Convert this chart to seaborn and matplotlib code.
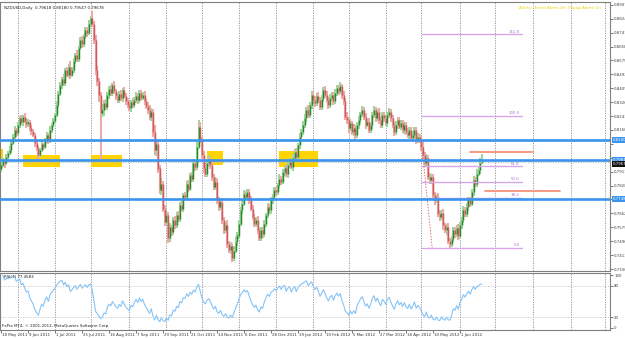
import numpy as np
import pandas as pd
import matplotlib
matplotlib.use("Agg")
import matplotlib.pyplot as plt
import matplotlib.transforms as mtrans
from matplotlib.patches import Rectangle
import seaborn as sns

sns.set_theme(style="white")
plt.rcParams["font.family"] = ["DejaVu Sans"]

# ---------------- data ----------------
start_date = "2011-05-18"
first_open = 0.7930
closes = [
    0.7951, 0.7975, 0.7960, 0.7998, 0.8022, 0.8040, 0.8085, 0.8120, 0.8160, 0.8142,
    0.8188, 0.8231, 0.8205, 0.8240, 0.8215, 0.8196, 0.8208, 0.8170, 0.8152, 0.8130,
    0.8085, 0.8050, 0.8011, 0.8042, 0.8075, 0.8060, 0.8100, 0.8128, 0.8098, 0.8160,
    0.8190, 0.8215, 0.8249, 0.8310, 0.8372, 0.8428, 0.8465, 0.8440, 0.8518, 0.8490,
    0.8535, 0.8488, 0.8520, 0.8570, 0.8608, 0.8585, 0.8650, 0.8697, 0.8672, 0.8720,
    0.8757, 0.8740, 0.8795, 0.8828, 0.8790, 0.8697, 0.8518, 0.8450, 0.8369, 0.8260,
    0.8279, 0.8320, 0.8298, 0.8369, 0.8405, 0.8380, 0.8428, 0.8395, 0.8360, 0.8339,
    0.8372, 0.8350, 0.8399, 0.8365, 0.8330, 0.8309, 0.8290, 0.8325, 0.8310, 0.8339,
    0.8365, 0.8340, 0.8378, 0.8352, 0.8369, 0.8330, 0.8305, 0.8279, 0.8240, 0.8265,
    0.8150, 0.8040, 0.8075, 0.7930, 0.7800, 0.7840, 0.7690, 0.7610, 0.7650, 0.7515,
    0.7580, 0.7550, 0.7620, 0.7590, 0.7652, 0.7630, 0.7712, 0.7690, 0.7770, 0.7760,
    0.7840, 0.7810, 0.7891, 0.7870, 0.7960, 0.7940, 0.8060, 0.8180, 0.8100, 0.8010,
    0.7935, 0.7900, 0.7960, 0.7985, 0.7950, 0.7880, 0.7820, 0.7850, 0.7742, 0.7700,
    0.7730, 0.7620, 0.7563, 0.7590, 0.7480, 0.7443, 0.7470, 0.7396, 0.7440, 0.7490,
    0.7530, 0.7600, 0.7680, 0.7720, 0.7780, 0.7760, 0.7790, 0.7740, 0.7690, 0.7640,
    0.7600, 0.7620, 0.7560, 0.7515, 0.7560, 0.7540, 0.7600, 0.7650, 0.7700, 0.7680,
    0.7742, 0.7760, 0.7800, 0.7790, 0.7831, 0.7870, 0.7850, 0.7909, 0.7930, 0.7895,
    0.7951, 0.7970, 0.7940, 0.7993, 0.8030, 0.8000, 0.8070, 0.8120, 0.8150, 0.8190,
    0.8230, 0.8279, 0.8250, 0.8310, 0.8369, 0.8340, 0.8320, 0.8365, 0.8339, 0.8300,
    0.8345, 0.8399, 0.8370, 0.8339, 0.8310, 0.8350, 0.8369, 0.8330, 0.8380, 0.8411,
    0.8390, 0.8420, 0.8369, 0.8330, 0.8240, 0.8220, 0.8172, 0.8200, 0.8150, 0.8172,
    0.8130, 0.8190, 0.8220, 0.8255, 0.8279, 0.8240, 0.8190, 0.8210, 0.8160, 0.8190,
    0.8249, 0.8279, 0.8230, 0.8265, 0.8220, 0.8190, 0.8249, 0.8230, 0.8200, 0.8249,
    0.8270, 0.8230, 0.8190, 0.8150, 0.8190, 0.8220, 0.8180, 0.8200, 0.8160, 0.8190,
    0.8150, 0.8130, 0.8160, 0.8110, 0.8130, 0.8160, 0.8100, 0.8120, 0.8100, 0.8060,
    0.8010, 0.7960, 0.7990, 0.7880, 0.7861, 0.7880, 0.7772, 0.7740, 0.7760, 0.7660,
    0.7640, 0.7665, 0.7590, 0.7560, 0.7580, 0.7500, 0.7480, 0.7510, 0.7560, 0.7540,
    0.7575, 0.7530, 0.7590, 0.7620, 0.7680, 0.7660, 0.7700, 0.7742, 0.7720, 0.7790,
    0.7861, 0.7840, 0.7900, 0.7921, 0.7962, 0.7968,
]
# wick lengths in pips
up_wick = [
    15, 20, 12, 18, 10, 22, 14, 16, 25, 12,
    20, 15, 18, 12, 22, 14, 16, 10, 18, 12,
    14, 20, 16, 12, 18, 10, 15, 20, 14, 22,
    12, 16, 10, 25, 18, 20, 14, 30, 12, 18,
    20, 35, 16, 22, 12, 28, 14, 18, 25, 10,
    20, 15, 22, 14, 40, 18, 30, 25, 20, 15,
    35, 20, 25, 15, 18, 22, 14, 26, 12, 20,
    18, 25, 14, 20, 16, 22, 18, 12, 24, 15,
    20, 14, 18, 22, 16, 25, 12, 20, 30, 25,
    20, 40, 30, 25, 20, 35, 18, 22, 30, 20,
    25, 15, 20, 28, 16, 22, 18, 25, 14, 20,
    18, 22, 15, 20, 25, 18, 30, 40, 25, 20,
    22, 30, 18, 25, 14, 20, 16, 28, 22, 18,
    20, 25, 18, 22, 30, 15, 20, 18, 25, 30,
    20, 25, 18, 30, 22, 16, 20, 15, 28, 22,
    18, 20, 25, 15, 22, 18, 20, 14, 25, 18,
    20, 15, 22, 18, 14, 25, 16, 20, 18, 22,
    15, 20, 18, 22, 16, 25, 14, 20, 18, 22,
    25, 20, 30, 18, 22, 26, 20, 16, 24, 18,
    22, 16, 25, 20, 18, 22, 15, 20, 24, 18,
    20, 25, 15, 22, 18, 30, 20, 25, 16, 22,
    20, 18, 25, 15, 22, 18, 20, 14, 24, 18,
    16, 22, 18, 20, 25, 15, 20, 18, 22, 16,
    20, 18, 22, 16, 25, 20, 15, 22, 18, 20,
    18, 22, 15, 20, 25, 18, 16, 20, 15, 25,
    30, 20, 25, 18, 22, 16, 20, 18, 15, 22,
    20, 18, 22, 16, 20, 25, 18, 15, 22, 20,
    16, 22, 20, 18, 25, 20, 22, 15, 20, 18,
    22, 18, 25, 20, 30, 50,
]
dn_wick = [
    20, 15, 25, 12, 18, 14, 20, 12, 16, 22,
    15, 18, 12, 20, 14, 22, 16, 18, 20, 12,
    25, 18, 30, 14, 16, 20, 12, 18, 22, 14,
    16, 12, 20, 14, 18, 12, 22, 16, 20, 14,
    18, 22, 14, 20, 16, 18, 22, 14, 20, 16,
    18, 22, 15, 20, 18, 25, 30, 28, 40, 290,
    25, 35, 20, 18, 22, 16, 20, 18, 22, 16,
    20, 18, 22, 15, 20, 16, 18, 22, 16, 20,
    18, 22, 16, 20, 15, 22, 18, 25, 20, 25,
    30, 30, 35, 28, 25, 30, 20, 25, 18, 30,
    25, 20, 18, 22, 16, 20, 18, 15, 20, 14,
    18, 22, 16, 20, 18, 22, 16, 15, 20, 25,
    30, 22, 18, 20, 25, 22, 20, 18, 22, 25,
    20, 22, 25, 20, 22, 18, 25, 24, 18, 15,
    20, 18, 15, 22, 16, 20, 18, 22, 15, 20,
    20, 18, 22, 16, 20, 25, 18, 22, 15, 18,
    20, 22, 18, 25, 16, 20, 18, 15, 22, 18,
    20, 18, 15, 22, 16, 20, 18, 25, 16, 20,
    18, 22, 16, 20, 25, 18, 22, 16, 20, 18,
    20, 18, 22, 16, 25, 20, 18, 22, 16, 20,
    22, 18, 25, 20, 18, 22, 30, 20, 18, 25,
    30, 18, 22, 16, 20, 18, 22, 15, 20, 18,
    22, 16, 20, 18, 25, 20, 18, 22, 16, 20,
    18, 22, 20, 25, 18, 22, 16, 20, 18, 22,
    20, 18, 22, 16, 20, 18, 22, 16, 20, 25,
    25, 22, 20, 18, 25, 22, 20, 25, 18, 20,
    22, 20, 25, 18, 28, 20, 25, 20, 18, 22,
    20, 25, 18, 22, 16, 20, 18, 22, 20, 16,
    22, 18, 20, 16, 22, 7,
]
date_labels = ["18 May 2011", "9 Jun 2011", "1 Jul 2011", "25 Jul 2011", "16 Aug 2011",
               "7 Sep 2011", "29 Sep 2011", "21 Oct 2011", "14 Nov 2011", "6 Dec 2011",
               "28 Dec 2011", "19 Jan 2012", "10 Feb 2012", "5 Mar 2012", "27 Mar 2012",
               "18 Apr 2012", "10 May 2012", "1 Jun 2012"]
price_ticks = [0.7330 + 0.0083 * k for k in range(20)]
rsi_ticks = [100, 80, 20, 0]
rsi_levels = [80, 20]
support_levels = [0.8100, 0.7981, 0.7748]
bid_price = 0.79678
zone_x0 = [-0.7, 13.0, 53.3, 122.0, 164.7]
zone_x1 = [1.1, 35.0, 71.6, 131.5, 187.8]
zone_lo = [0.7933, 0.7939, 0.7939, 0.7951, 0.7939]
zone_hi = [0.8046, 0.8011, 0.8011, 0.8034, 0.8034]
fib_low, fib_high = 0.7455, 0.8243
fib_levels = [0.0, 38.2, 50.0, 61.8, 100.0, 161.8]
fib_x = [249.5, 308.8]
fib_trend_x = [249.0, 255.5]
fib_trend_y = [0.8100, 0.7455]
orange_x0 = [278.0, 286.8]
orange_x1 = [315.3, 331.3]
orange_y = [0.8028, 0.7796]
title_text = "NZDUSD,Daily  0.79618 0.80180 0.79547 0.79678"
alert_text = "Alerts:  Email Alerts On  Popup Alerts On"
rsi_text = "RSI(7) 77.4583"
copyright_text = "FxPro MT4, \u00a9 2001-2012, MetaQuotes Software Corp."

# ---------------- derived ----------------
n = len(closes)
idx = np.arange(n)
c = np.array(closes)
o = np.array([first_open] + closes[:-1])
hi = np.maximum(o, c) + np.array(up_wick) * 1e-4
lo = np.minimum(o, c) - np.array(dn_wick) * 1e-4
dates = pd.bdate_range(start_date, periods=370)
month_start = [i for i in range(1, len(dates)) if dates[i].month != dates[i - 1].month]

cs = pd.Series(closes)
d = cs.diff()
ag = d.clip(lower=0).ewm(alpha=1 / 7, adjust=False).mean()
al = (-d.clip(upper=0)).ewm(alpha=1 / 7, adjust=False).mean()
rsi = 100 - 100 / (1 + ag / al)
rsi_df = pd.DataFrame({"bar": idx[1:], "rsi": rsi.values[1:]})

# ---------------- layout ----------------
W, H = 625, 338
fig = plt.figure(figsize=(W / 100, H / 100), dpi=100)
fig.patch.set_facecolor("white")
ax = fig.add_axes([0, 1 - 271 / H, 610 / W, 269 / H])
ax2 = fig.add_axes([0, 1 - 330 / H, 610 / W, 57 / H])
xlim = (-0.67, 360.9)
for a in (ax, ax2):
    a.set_facecolor("white")
    a.set_xlim(*xlim)
    for s in a.spines.values():
        s.set_color("#7f7f7f")
        s.set_linewidth(0.8)
    for m in month_start:
        if xlim[0] < m < xlim[1]:
            a.axvline(m, color="#8a8a96", lw=0.6, ls=(0, (1.5, 1.5)), zorder=0)
ax.set_ylim(0.73181, 0.89240)
ax2.set_ylim(-3.8, 103.8)

# zones
for x0, x1, y0, y1 in zip(zone_x0, zone_x1, zone_lo, zone_hi):
    ax.add_patch(Rectangle((x0, y0), x1 - x0, y1 - y0, facecolor="#ffd400",
                           edgecolor="none", zorder=1))

# candles
up = c >= o
col_body = np.where(up, "#2a8a2a", "#cf5a5a")
col_wick = np.where(up, "#9fd49f", "#efaaaa")
ax.vlines(idx, lo, hi, colors=col_wick, lw=1.5, zorder=2)
ax.vlines(idx, np.minimum(o, c), np.maximum(o, c) + 1e-5, colors=col_body, lw=1.05, zorder=3)

# bid line
ax.axhline(bid_price, color="#b8b8b8", lw=0.6, ls=(0, (1.5, 1.5)), zorder=1)

# fib
fib_vals = [fib_low + (fib_high - fib_low) * lv / 100 for lv in fib_levels]
for lv, fv in zip(fib_levels, fib_vals):
    ax.plot(fib_x, [fv, fv], color="#d9a6ec", lw=1.0, zorder=4)
    ax.text(fib_x[1] - 1.5, fv + 0.0004, f"{lv:.1f}", fontsize=2.8, color="#b070d0",
            ha="right", va="bottom", zorder=5)
ax.plot(fib_trend_x, fib_trend_y, color="#e07070", lw=0.7, ls=(0, (1.5, 1.5)), zorder=4)

# orange lines
for x0, x1, yv in zip(orange_x0, orange_x1, orange_y):
    ax.plot([x0, x1], [yv, yv], color="#f4937a", lw=1.3, zorder=4)

# blue support lines
for lvl in support_levels:
    ax.axhline(lvl, color="#3a94ee", lw=1.9, zorder=5)

# right price axis (labels hidden where a highlighted label covers them)
highlighted = support_levels + [bid_price]
ax.yaxis.tick_right()
ax.set_yticks(price_ticks)
ax.set_yticklabels(["" if any(abs(t - h) < 0.0025 for h in highlighted) else f"{t:.5f}"
                    for t in price_ticks])
ax.tick_params(axis="y", right=True, length=2, width=0.5, pad=1, labelsize=2.8,
               colors="#404040")
ax.set_xticks([])
blend = mtrans.blended_transform_factory(ax.transAxes, ax.transData)
for lvl in support_levels:
    ax.text(1.004, lvl, f"{lvl:.5f}", transform=blend, fontsize=2.8, color="white",
            va="center", ha="left", clip_on=False, zorder=6,
            bbox=dict(facecolor="#3a94ee", edgecolor="none", pad=0.5))
ax.text(1.004, bid_price - 0.0012, f"{bid_price:.5f}", transform=blend, fontsize=2.8,
        color="white", va="center", ha="left", clip_on=False, zorder=6,
        bbox=dict(facecolor="#101010", edgecolor="none", pad=0.5))

# texts main
ax.text(0.006, 0.985, title_text, transform=ax.transAxes, fontsize=2.9, color="#202020",
        ha="left", va="top")
ax.text(0.985, 0.985, alert_text, transform=ax.transAxes, fontsize=2.9, color="#e6d600",
        ha="right", va="top")

# RSI panel
sns.lineplot(data=rsi_df, x="bar", y="rsi", ax=ax2, color="#86c3f7", lw=0.8, zorder=3)
for lv in rsi_levels:
    ax2.axhline(lv, color="#c8c8c8", lw=0.6, ls=(0, (1.5, 1.5)), zorder=1)
ax2.set_xlabel("")
ax2.set_ylabel("")
ax2.yaxis.tick_right()
ax2.set_yticks(rsi_ticks)
ax2.set_yticklabels([str(t) for t in rsi_ticks])
ax2.tick_params(axis="y", right=True, length=2, width=0.5, pad=1, labelsize=2.8,
                colors="#404040")
ax2.set_xticks([16 * k for k in range(len(date_labels))])
ax2.set_xticklabels([])
ax2.tick_params(axis="x", bottom=True, length=2, width=0.5, colors="#404040")
xblend = mtrans.blended_transform_factory(ax2.transData, ax2.transAxes)
for k, lab in enumerate(date_labels):
    ax2.text(16 * k + 0.5, -0.05, lab, transform=xblend, fontsize=2.8, color="#303030",
             ha="left", va="top", clip_on=False)
ax2.text(0.006, 0.97, rsi_text, transform=ax2.transAxes, fontsize=2.9, color="#202020",
         ha="left", va="top")
ax2.text(0.004, 0.04, copyright_text, transform=ax2.transAxes, fontsize=2.9, color="#202020",
         ha="left", va="bottom")

fig.savefig("out.png", dpi=100, facecolor="white")
